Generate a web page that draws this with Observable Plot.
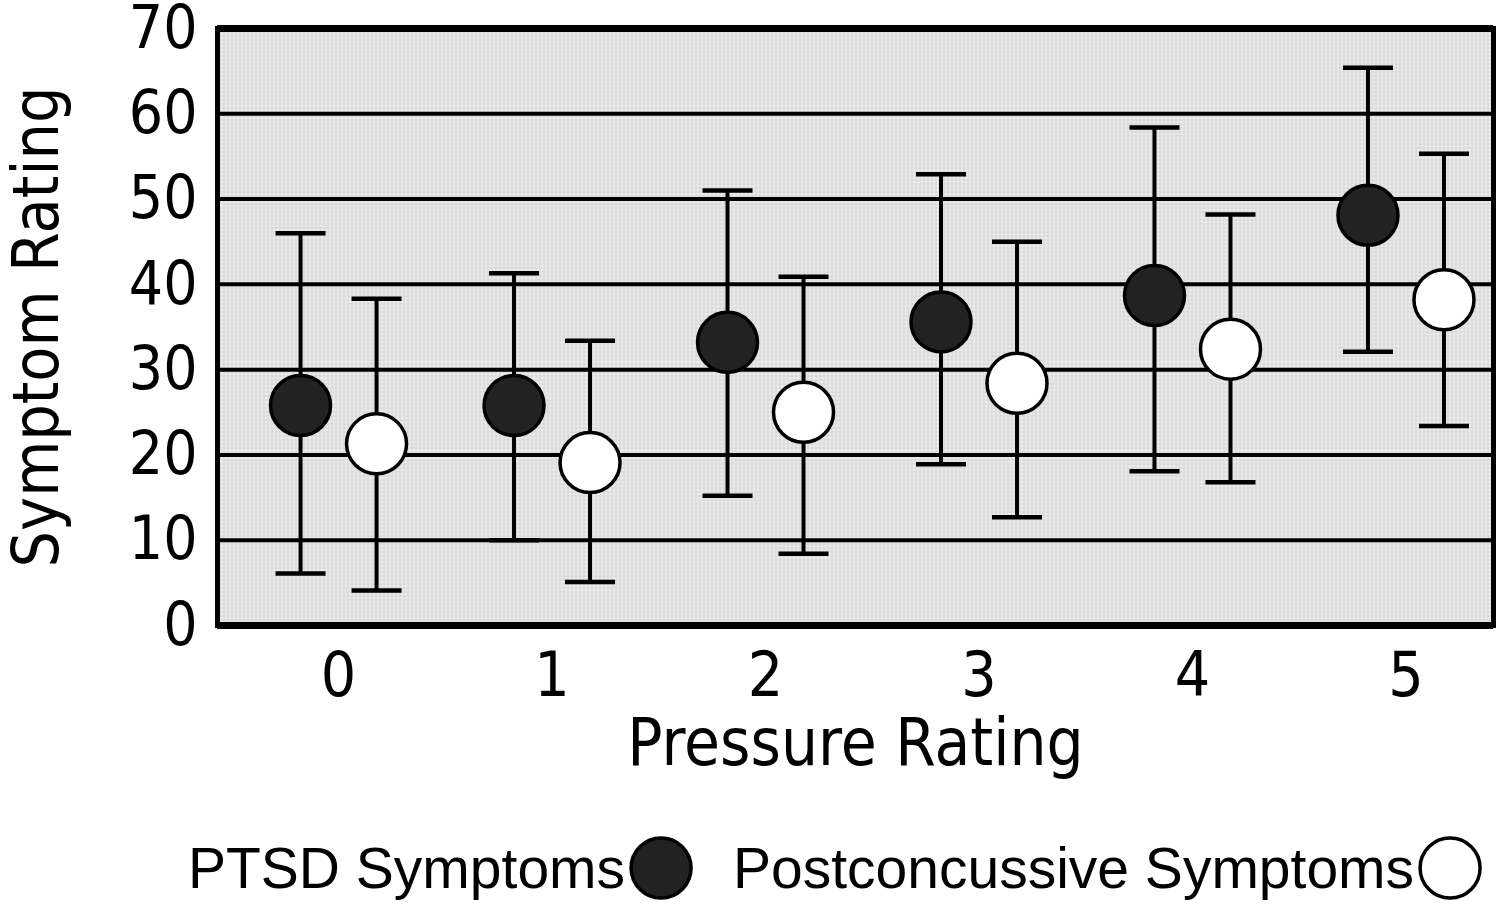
<!DOCTYPE html>
<html>
<head>
<meta charset="utf-8">
<script src="https://cdn.jsdelivr.net/npm/d3@7"></script>
<script src="https://cdn.jsdelivr.net/npm/@observablehq/plot@0.6"></script>
<style>
  html, body { margin: 0; padding: 0; background: white; }
  #chart { width: 1500px; }
  #legend { width: 1500px; height: 115px; display: block; }
</style>
</head>
<body>
<div id="chart"></div>
<svg id="legend" width="1500" height="115"></svg>
<script>
// ---- data ----
const pressure = [0, 1, 2, 3, 4, 5];
const ptsdMean = [25.8, 25.8, 33.2, 35.6, 38.7, 48.1];
const ptsdLow  = [6.1, 10.0, 15.2, 18.9, 18.1, 32.1];
const ptsdHigh = [46.0, 41.3, 51.0, 52.9, 58.4, 65.4];
const pcsMean  = [21.3, 19.1, 25.0, 28.4, 32.4, 38.2];
const pcsLow   = [4.1, 5.1, 8.4, 12.7, 16.8, 23.4];
const pcsHigh  = [38.3, 33.4, 40.9, 45.0, 48.2, 55.3];
const seriesNames = ["PTSD Symptoms", "Postconcussive Symptoms"];
const seriesFill = ["#222222", "#ffffff"];
const yTicks = [0, 10, 20, 30, 40, 50, 60, 70];
const gridValues = [10, 20, 30, 40, 50, 60];

const tables = [
  pressure.map((p, i) => ({pressure: p, mean: ptsdMean[i], low: ptsdLow[i], high: ptsdHigh[i]})),
  pressure.map((p, i) => ({pressure: p, mean: pcsMean[i], low: pcsLow[i], high: pcsHigh[i]}))
];
const offsets = [-38, 38];

// horizontal cap symbol: half-width equals r
const capSymbol = {
  draw(ctx, size) {
    const w = Math.sqrt(size / Math.PI);
    ctx.moveTo(-w, 0);
    ctx.lineTo(w, 0);
  }
};

const seriesMarks = tables.flatMap((rows, s) => [
  Plot.ruleX(rows, {x: "pressure", y1: "low", y2: "high", dx: offsets[s], stroke: "black", strokeWidth: 4}),
  Plot.dot(rows, {x: "pressure", y: "high", dx: offsets[s], symbol: capSymbol, r: 25, stroke: "black", strokeWidth: 4.5, fill: "none"}),
  Plot.dot(rows, {x: "pressure", y: "low", dx: offsets[s], symbol: capSymbol, r: 25, stroke: "black", strokeWidth: 4.5, fill: "none"}),
  Plot.dot(rows, {x: "pressure", y: "mean", dx: offsets[s], r: 30, fill: seriesFill[s], fillOpacity: 1, stroke: "black", strokeWidth: 3.5})
]);

const font = "'DejaVu Sans Condensed', 'DejaVu Sans', sans-serif";

const chart = Plot.plot({
  width: 1500,
  height: 790,
  marginLeft: 217,
  marginRight: 7,
  marginTop: 28,
  marginBottom: 165,
  style: {fontFamily: font, fontStretch: "condensed", fontSize: "60px", color: "black", background: "white", overflow: "visible"},
  x: {type: "linear", domain: [-0.567, 5.41]},
  y: {domain: [0, 70]},
  marks: [
    Plot.frame({fill: "url(#bgpat)", stroke: "none"}),
    Plot.ruleY(gridValues, {stroke: "black", strokeWidth: 4}),
    ...seriesMarks,
    Plot.frame({stroke: "black", strokeWidth: 5, fill: "none"}),
    Plot.ruleY([0, 70], {stroke: "black", strokeWidth: 7}),
    Plot.axisX({ticks: pressure, tickSize: 0, tickPadding: 26, tickFormat: d3.format("d"), fontSize: 62, label: null}),
    Plot.axisX({ticks: [], tickSize: 0, fontSize: 65,
      label: "Pressure Rating", labelAnchor: "center", labelOffset: 139, labelArrow: false}),
    Plot.axisY({ticks: yTicks, tickSize: 0, tickPadding: 20, fontSize: 60, label: null}),
    Plot.axisY({ticks: [], tickSize: 0, fontSize: 64,
      label: "Symptom Rating", labelAnchor: "center", labelOffset: 205, labelArrow: false})
  ]
});

// background texture pattern
const defs = d3.select(chart).insert("defs", ":first-child");
const pat = defs.append("pattern").attr("id", "bgpat").attr("width", 4).attr("height", 4).attr("patternUnits", "userSpaceOnUse");
pat.append("rect").attr("width", 4).attr("height", 4).attr("fill", "#d6d6d6");
pat.append("rect").attr("width", 3).attr("height", 3).attr("fill", "#ebebeb");

document.getElementById("chart").appendChild(chart);

// legend below the chart
const lg = d3.select("#legend");
const legendItems = [
  {name: seriesNames[0], fill: seriesFill[0], x: 188},
  {name: seriesNames[1], fill: seriesFill[1], x: 733}
];
legendItems.forEach(item => {
  const t = lg.append("text").attr("x", item.x).attr("y", 98)
    .attr("font-family", "'Liberation Sans', Arial, sans-serif").attr("font-size", 57).attr("fill", "black")
    .text(item.name);
  const w = t.node().getComputedTextLength();
  lg.append("circle").attr("cx", item.x + w + 36).attr("cy", 78).attr("r", 30)
    .attr("fill", item.fill).attr("stroke", "black").attr("stroke-width", 3.5);
});
</script>
</body>
</html>
